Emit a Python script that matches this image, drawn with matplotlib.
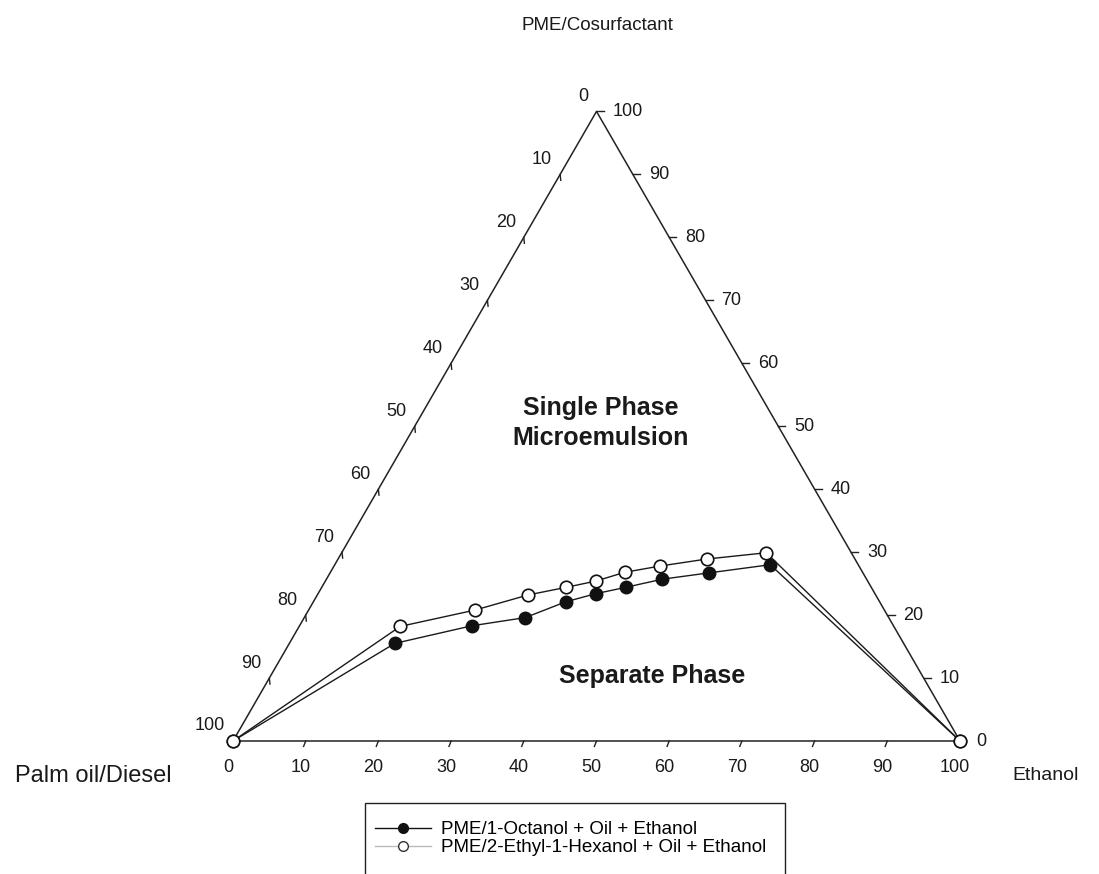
import numpy as np
import matplotlib
matplotlib.use("Agg")
import matplotlib.pyplot as plt
from matplotlib.lines import Line2D
from matplotlib.patches import Rectangle

plt.rcParams['font.family'] = ['Liberation Sans', 'DejaVu Sans']

# ---------------- data (ternary %) ----------------
ethanol_oct = [0, 14.5, 23.7, 30.4, 34.7, 38.2, 41.8, 46.2, 52.1, 59.9, 100]
cosurf_oct = [0, 15.5, 18.3, 19.6, 22.1, 23.4, 24.4, 25.7, 26.7, 28.0, 0]
ethanol_eh = [0, 13.9, 22.9, 29.0, 33.6, 37.2, 40.5, 44.9, 50.7, 58.4, 100]
cosurf_eh = [0, 18.2, 20.8, 23.2, 24.4, 25.4, 26.8, 27.8, 28.9, 29.9, 0]
tick_values = [0, 10, 20, 30, 40, 50, 60, 70, 80, 90, 100]
label_top = "PME/Cosurfactant"
label_left = "Palm oil/Diesel"
label_right = "Ethanol"
legend_labels = ["PME/1-Octanol + Oil + Ethanol",
                 "PME/2-Ethyl-1-Hexanol + Oil + Ethanol"]

H = np.sqrt(3) / 2


def tern(e, c):
    e = np.asarray(e, float) / 100.0
    c = np.asarray(c, float) / 100.0
    return e + c / 2.0, c * H


W, Hpx = 1099, 874
fig = plt.figure(figsize=(W / 100, Hpx / 100), dpi=100)
ax = fig.add_axes([0, 0, 1, 1])
# triangle base spans pixels 233..960, base line at y=741 (from top)
x0, x1, yb = 233.0, 960.0, 741.0
S = x1 - x0
ax.set_xlim(-x0 / S, (W - x0) / S)
ax.set_ylim(-(Hpx - yb) / S, yb / S)
ax.axis('off')

# triangle
ax.plot([0, 1, 0.5, 0], [0, 0, H, 0], color='#222222', lw=1.1, zorder=2)

tl = 6.0 / S  # tick length
for v in tick_values:
    f = v / 100.0
    # bottom axis (Ethanol)
    bx, by = f, 0.0
    if 0 < v < 100:
        ax.plot([bx, bx - 0.35 * tl], [by, by - 0.9 * tl], color='#222222', lw=1.0)
    ax.annotate(str(v), (bx, by), xytext=(-5 * 0.72, -27 * 0.72), textcoords='offset points',
                ha='center', va='center', fontsize=13, color='#1a1a1a')
    # left axis (Palm oil/Diesel): 100 at bottom-left, 0 at top
    lx, ly = (1 - f) * 0.5, (1 - f) * H
    if 0 < v < 100:
        ax.plot([lx, lx + 0.1 * tl], [ly, ly - tl], color='#222222', lw=1.0)
    ax.annotate(str(v), (lx, ly), xytext=(-8 * 0.72, 15 * 0.72), textcoords='offset points',
                ha='right', va='center', fontsize=13, color='#1a1a1a')
    # right axis (PME/Cosurfactant): 100 at top, 0 at bottom-right
    rx, ry = 1 - f * 0.5, f * H
    if 0 < v <= 100:
        ax.plot([rx, rx + 1.2 * tl], [ry, ry], color='#222222', lw=1.0)
    ax.annotate(str(v), (rx, ry), xytext=(16 * 0.72, 0), textcoords='offset points',
                ha='left', va='center', fontsize=13, color='#1a1a1a')

# data series
xo, yo = tern(ethanol_oct, cosurf_oct)
xe, ye = tern(ethanol_eh, cosurf_eh)
ax.plot(xo, yo, '-o', color='#1a1a1a', lw=1.0, ms=9, mfc='#111111', mec='#111111', zorder=3)
ax.plot(xe, ye, '-o', color='#1a1a1a', lw=1.0, ms=9, mfc='white', mec='#111111',
        mew=1.2, zorder=4)


def fx(px):
    return px / W


def fy(py):
    return 1 - py / Hpx


fig.text(fx(597), fy(25), label_top, ha='center', va='center', fontsize=13.5, color='#1a1a1a')
fig.text(fx(93), fy(776), label_left, ha='center', va='center', fontsize=17, color='#1a1a1a')
fig.text(fx(1046), fy(775), label_right, ha='center', va='center', fontsize=14, color='#1a1a1a')
fig.text(fx(601), fy(423), "Single Phase\nMicroemulsion", ha='center', va='center',
         fontsize=18, fontweight='bold', linespacing=1.3, color='#1a1a1a')
fig.text(fx(652), fy(676), "Separate Phase", ha='center', va='center',
         fontsize=18, fontweight='bold', color='#1a1a1a')

# legend
handles = [Line2D([], [], color='#111111', lw=1.0, marker='o', ms=7, mfc='#111111', mec='#111111'),
           Line2D([], [], color='#bbbbbb', lw=1.0, marker='o', ms=7, mfc='white', mec='#333333')]
fig.legend(handles, legend_labels, loc='upper left',
           bbox_to_anchor=(fx(362), fy(808)), frameon=False, fontsize=13.5,
           handlelength=3.0, handletextpad=0.5, labelspacing=0.05, borderpad=0.2)
fig.patches.append(Rectangle((fx(365), fy(890)), fx(785) - fx(365), fy(803) - fy(890),
                             transform=fig.transFigure, fill=False, ec='#222222', lw=1.0))

fig.savefig('out.png', dpi=100, facecolor='white')
